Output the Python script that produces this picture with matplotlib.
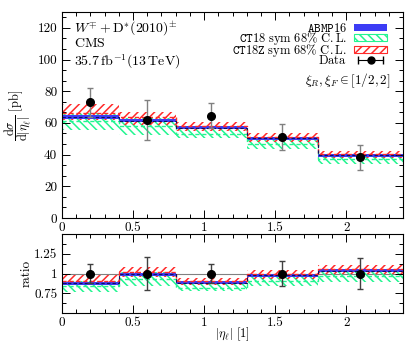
import numpy as np
import matplotlib
matplotlib.use("Agg")
import matplotlib.pyplot as plt
from matplotlib.patches import Patch
from matplotlib.lines import Line2D
from matplotlib.legend_handler import HandlerLine2D, HandlerTuple
from matplotlib.ticker import MultipleLocator, FixedLocator, FuncFormatter

plt.rcParams['font.family'] = 'serif'
plt.rcParams['font.serif'] = ['cmr10', 'DejaVu Serif']
plt.rcParams['mathtext.fontset'] = 'cm'
plt.rcParams['axes.formatter.use_mathtext'] = True
plt.rcParams['hatch.linewidth'] = 1.1

# ---- data ----
bin_edges = [0.0, 0.4, 0.8, 1.3, 1.8, 2.4]
data_x = [0.2, 0.6, 1.05, 1.55, 2.1]
data_val = [73.0, 62.0, 64.5, 51.3, 38.3]
data_err = [9.0, 12.6, 8.0, 8.1, 7.7]

abmp_val = [63.8, 61.5, 57.0, 50.3, 39.6]
abmp_err = [1.3, 1.2, 1.1, 1.0, 0.8]

ct18_val = [61.0, 58.0, 53.0, 46.5, 37.0]
ct18_lo = [55.5, 52.5, 50.5, 43.5, 34.2]
ct18_hi = [66.5, 63.0, 56.0, 49.5, 40.0]

ct18z_val = [66.5, 63.5, 58.0, 51.0, 40.5]
ct18z_lo = [62.0, 59.0, 55.0, 48.0, 38.0]
ct18z_hi = [72.0, 67.2, 60.7, 53.4, 42.5]

x_ticks = [0, 0.5, 1, 1.5, 2]
ratio_ticks = [0.75, 1.0, 1.25]

c_blue = '#3c3cf5'
c_green = '#22f590'
c_red = '#ff2a2a'

fig = plt.figure(figsize=(4.11, 3.42), dpi=100)
ax = fig.add_axes([62/411, 1-218/342, 341/411, 206/342])
axr = fig.add_axes([62/411, 1-313/342, 341/411, 79/342])

edges = np.array(bin_edges)
dval = np.array(data_val)


def ext(a):
    a = np.asarray(a, dtype=float)
    return np.append(a, a[-1])


def draw(a, norm):
    n = np.asarray(norm, dtype=float)
    a.fill_between(edges, ext(np.array(ct18_lo)/n), ext(np.array(ct18_hi)/n), step='post',
                   facecolor='none', edgecolor=c_green, hatch='\\\\\\\\', linewidth=0)
    a.step(edges, ext(np.array(ct18_val)/n), where='post', color=c_green, lw=1.0, ls=(0, (3, 2)))
    a.fill_between(edges, ext(np.array(ct18z_lo)/n), ext(np.array(ct18z_hi)/n), step='post',
                   facecolor='none', edgecolor=c_red, hatch='////', linewidth=0)
    a.step(edges, ext(np.array(ct18z_val)/n), where='post', color=c_red, lw=1.0, ls=(0, (3, 2)))
    lo = (np.array(abmp_val) - np.array(abmp_err))/n
    hi = (np.array(abmp_val) + np.array(abmp_err))/n
    a.fill_between(edges, ext(lo), ext(hi), step='post', facecolor=c_blue, edgecolor='none', lw=0)
    a.step(edges, ext(np.array(abmp_val)/n), where='post', color='#101060', lw=0.8, ls=(0, (3, 2)))


draw(ax, np.ones(5))
ax.errorbar(data_x, data_val, yerr=data_err, fmt='o', color='black', ms=5.5,
            ecolor='#808080', elinewidth=1.0, capsize=2.5, capthick=1.0, zorder=5)

axr.axhline(1.0, color='#808080', lw=0.8, zorder=0)
draw(axr, dval)
axr.errorbar(data_x, np.array(data_val)/dval, yerr=np.array(data_err)/dval, fmt='o',
             color='black', ms=5.5, ecolor='#404040', elinewidth=1.0, capsize=2.5,
             capthick=1.0, zorder=5)

fmt = FuncFormatter(lambda v, p: '%g' % v)
for a in (ax, axr):
    a.set_xlim(0, 2.4)
    a.xaxis.set_major_locator(FixedLocator(x_ticks))
    a.xaxis.set_minor_locator(MultipleLocator(0.1))
    a.xaxis.set_major_formatter(fmt)
    a.tick_params(which='both', direction='in', top=True, right=True, labelsize=9.5)
    a.tick_params(which='major', length=6, width=0.7)
    a.tick_params(which='minor', length=3, width=0.7)
    a.tick_params(axis='x', pad=3)
    for s in a.spines.values():
        s.set_linewidth(0.8)

ax.set_ylim(0, 130)
ax.yaxis.set_major_locator(MultipleLocator(20))
ax.yaxis.set_minor_locator(MultipleLocator(20/3))
ax.yaxis.set_major_formatter(fmt)

axr.set_ylim(0.5, 1.5)
axr.yaxis.set_major_locator(FixedLocator(ratio_ticks))
axr.yaxis.set_minor_locator(MultipleLocator(0.125))
axr.yaxis.set_major_formatter(fmt)

ax.set_ylabel(r'$\dfrac{\mathrm{d}\sigma}{\mathrm{d}|\eta_\ell|}\ \mathrm{[pb]}$', fontsize=9, labelpad=3)
axr.set_ylabel('ratio', fontsize=9.5, labelpad=1)
axr.set_xlabel(r'$|\eta_\ell|\ \mathrm{[1]}$', fontsize=9, labelpad=-3)

ax.text(0.035, 0.92, r'$W^{\mp} + \mathrm{D}^{*}(2010)^{\pm}$', transform=ax.transAxes,
        fontsize=10, va='center', ha='left')
ax.text(0.035, 0.845, r'$\mathrm{CMS}$', transform=ax.transAxes, fontsize=10, va='center', ha='left')
ax.text(0.035, 0.76, r'$35.7\,\mathrm{fb}^{-1}(13\,\mathrm{TeV})$', transform=ax.transAxes,
        fontsize=10, va='center', ha='left')
ax.text(0.965, 0.665, r'$\xi_R, \xi_F \in [1/2, 2]$', transform=ax.transAxes,
        fontsize=9.5, va='center', ha='right')

h_abmp = Patch(facecolor=c_blue, edgecolor=c_blue, lw=0)
h_ct18 = Patch(facecolor='none', edgecolor=c_green, hatch='\\\\\\\\', lw=0.8)
h_ct18z = Patch(facecolor='none', edgecolor=c_red, hatch='////', lw=0.8)
caps = Line2D([], [], color='black', marker='|', ms=6, lw=0.8)
dot = Line2D([], [], color='black', marker='o', ms=5, ls='none')
h_data = (caps, dot)

leg = ax.legend([h_abmp, h_ct18, h_ct18z, h_data],
                [r'$\mathtt{ABMP16}$', r'$\mathtt{CT18}\ \mathrm{sym}\ 68\%\ \mathrm{C.L.}$',
                 r'$\mathtt{CT18Z}\ \mathrm{sym}\ 68\%\ \mathrm{C.L.}$', r'$\mathrm{Data}$'],
                loc='upper right', bbox_to_anchor=(0.975, 0.99), markerfirst=False, frameon=False,
                fontsize=9, handlelength=2.6, handleheight=0.5, labelspacing=-0.4,
                handletextpad=0.6, borderaxespad=0.2,
                handler_map={caps: HandlerLine2D(numpoints=2), tuple: HandlerTuple(ndivide=1)})

fig.savefig('out.png', dpi=100)
